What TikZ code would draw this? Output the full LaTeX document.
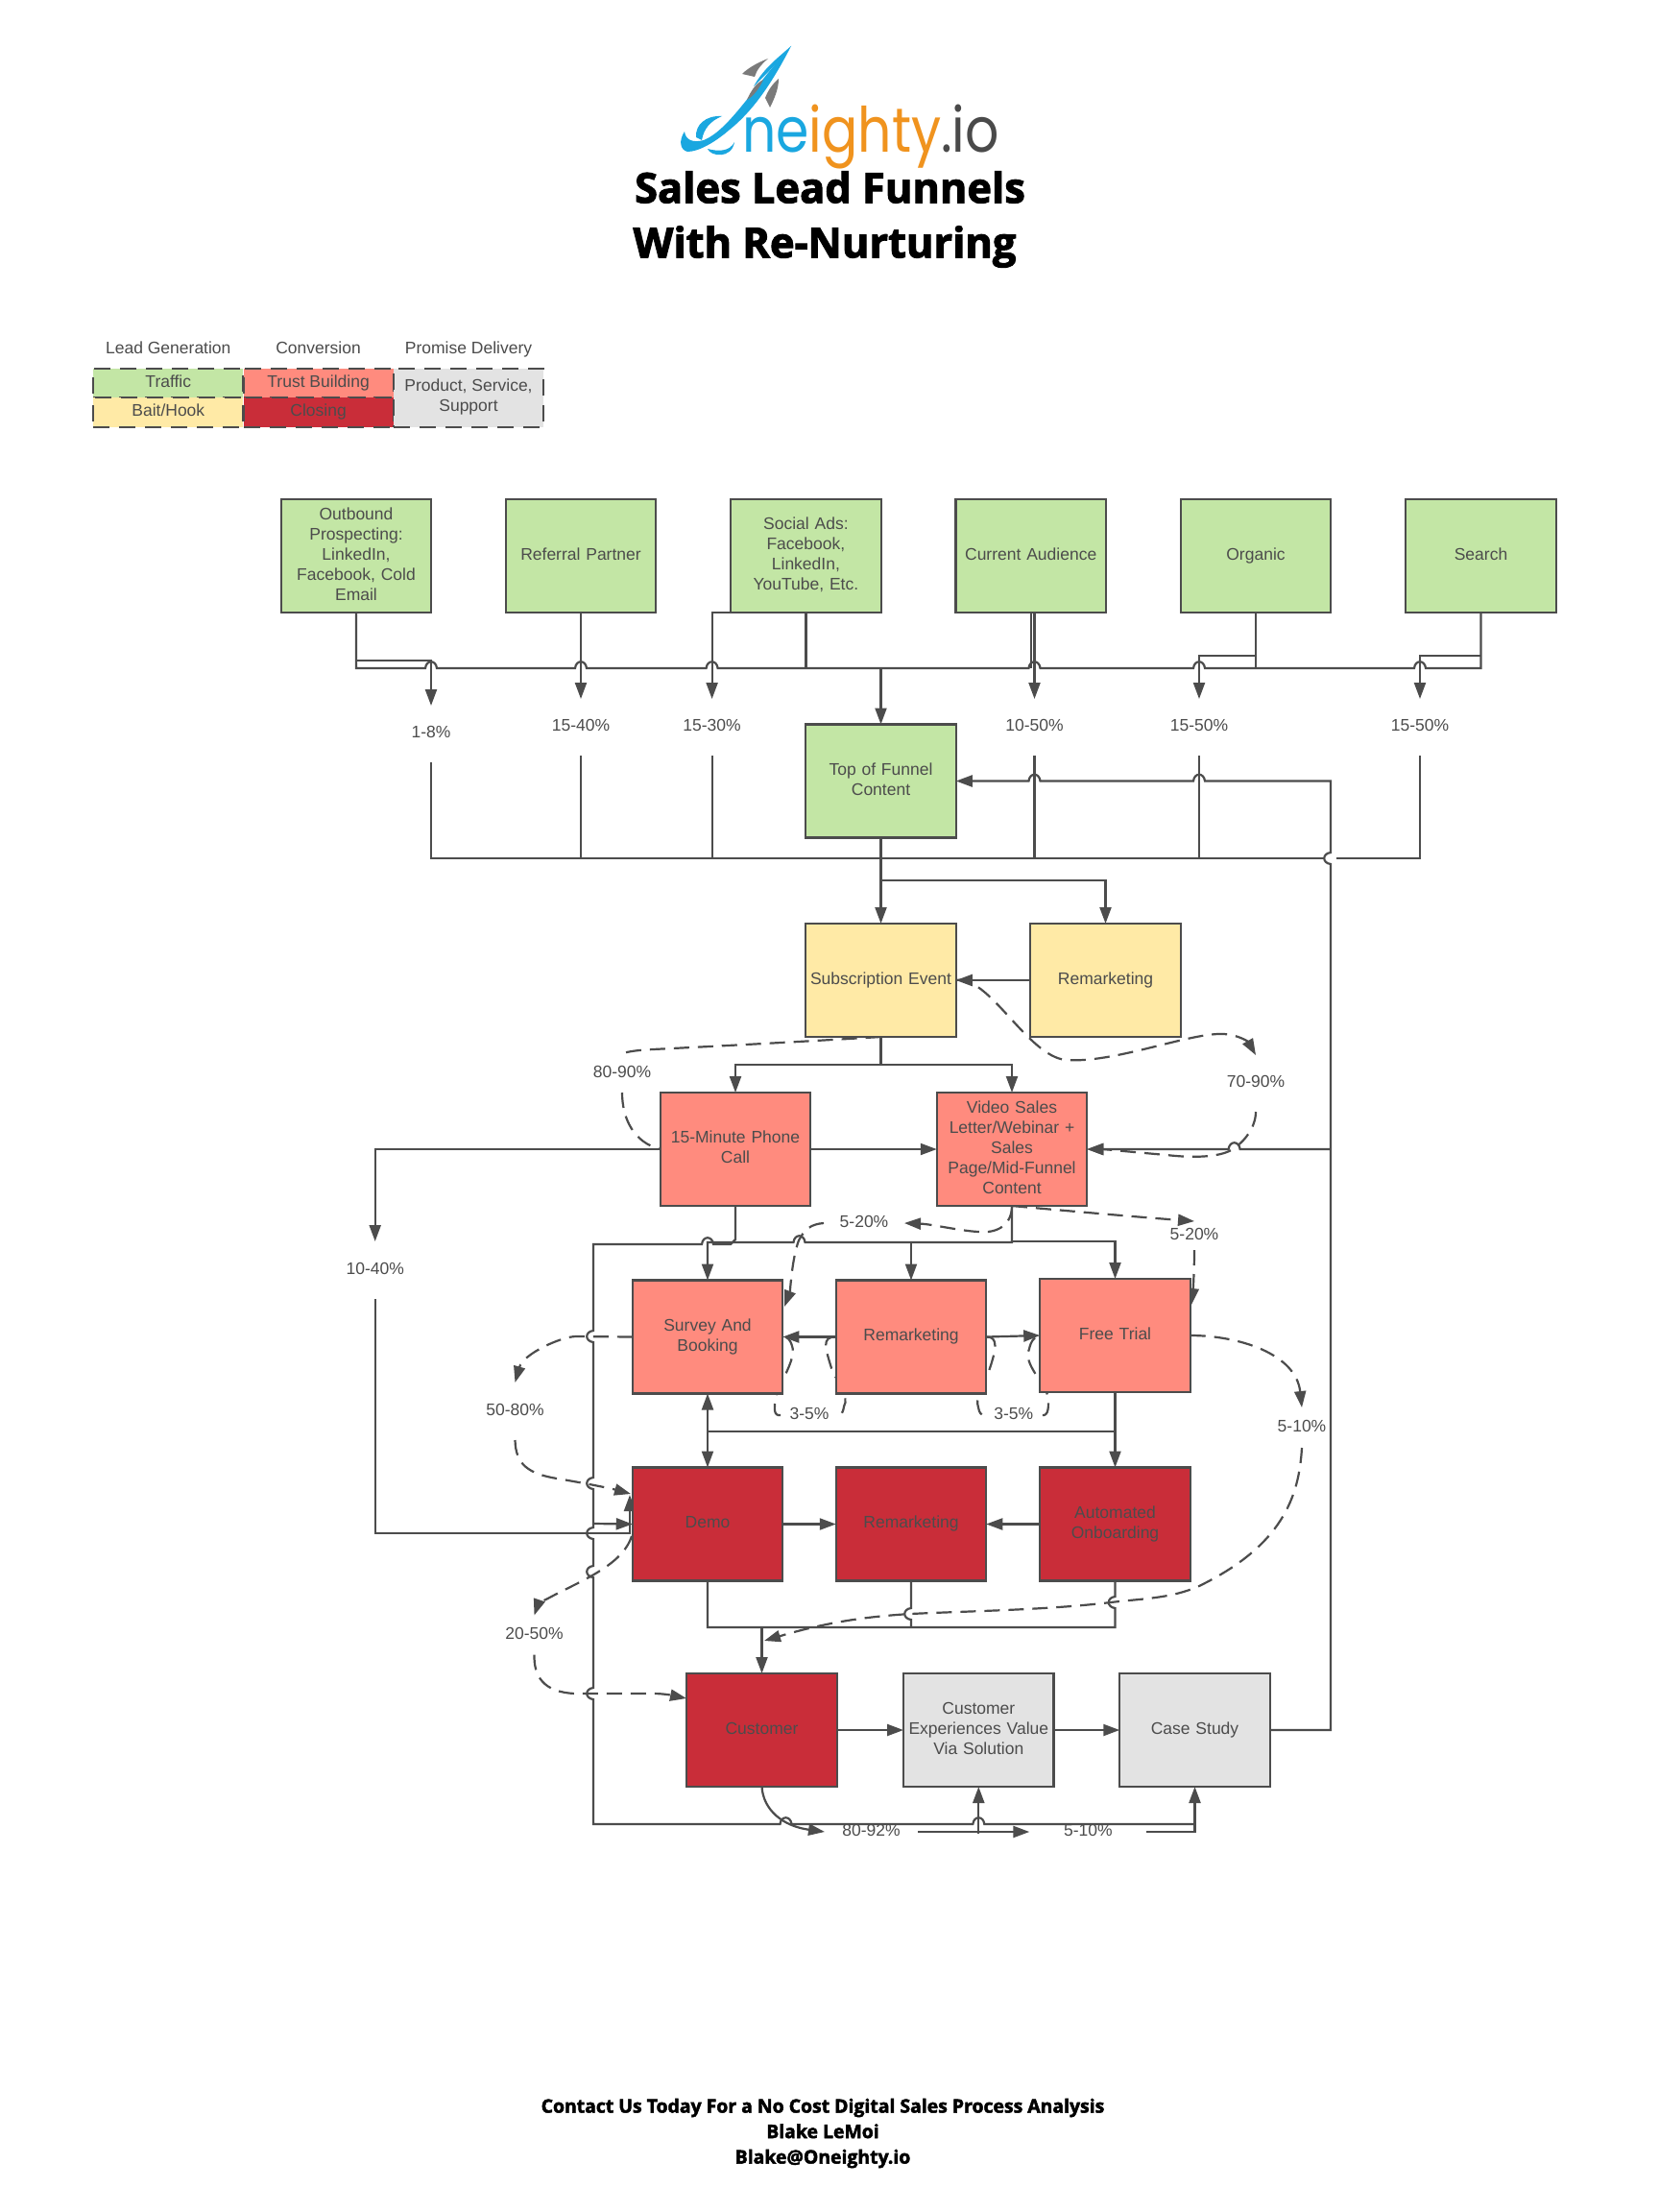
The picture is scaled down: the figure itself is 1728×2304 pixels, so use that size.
\documentclass[tikz,border=0pt]{standalone}
\usepackage{fontspec}
\usepackage{graphicx}
\setmainfont{Liberation Sans}
\newfontfamily\titlefont[BoldFeatures={FakeBold=2.4}]{Open Sans}
\newfontfamily\logofont{Poppins}
\usetikzlibrary{arrows.meta,backgrounds}
\pgfdeclarelayer{connectors}
\pgfsetlayers{connectors,main}
\definecolor{ink}{HTML}{4C4C4C}
\definecolor{cgreen}{HTML}{C3E6A5}
\definecolor{cyellow}{HTML}{FFEAA6}
\definecolor{csalmon}{HTML}{FF8B7E}
\definecolor{cred}{HTML}{C92D39}
\definecolor{cgray}{HTML}{E3E3E3}
\definecolor{lblue}{HTML}{1AA7E0}
\definecolor{lorange}{HTML}{F0931E}
\definecolor{lgray}{HTML}{7A7A7A}
\definecolor{ldark}{HTML}{4A4A4A}
\newcommand{\lf}{\fontsize{17.5}{21}\selectfont}
% line jumps: bump on a line running right, left, or down
\newcommand{\hj}[2]{-- (#1-6,#2) .. controls (#1-5,#2-9) and (#1+5,#2-9) .. (#1+6,#2)}
\newcommand{\hjl}[2]{-- (#1+6,#2) .. controls (#1+5,#2-9) and (#1-5,#2-9) .. (#1-6,#2)}
\newcommand{\vj}[2]{-- (#1,#2-6) .. controls (#1-9,#2-5) and (#1-9,#2+5) .. (#1,#2+6)}
\newcommand{\vju}[2]{-- (#1,#2+6) .. controls (#1-9,#2+5) and (#1-9,#2-5) .. (#1,#2-6)}
\tikzset{
  struts/.style={execute at begin node=\strut,execute at end node=\strut},
  flowbox/.style={draw=ink,line width=2.2pt,text=ink,minimum width=156.5pt,minimum height=118pt,
    text width=150pt,inner sep=0pt,outer sep=0pt,align=center,font=\lf,struts},
  traffic/.style={flowbox,fill=cgreen},
  bait/.style={flowbox,fill=cyellow},
  trust/.style={flowbox,fill=csalmon},
  closing/.style={flowbox,fill=cred},
  deliver/.style={flowbox,fill=cgray},
  pct/.style={text=ink,font=\lf,inner sep=0pt,outer sep=0pt,align=center,struts},
  legbox/.style={draw=ink,line width=2.2pt,dash pattern=on 17pt off 10pt,text=ink,inner sep=0pt,outer sep=0pt,
    minimum width=156pt,align=center,font=\lf,struts},
  leghead/.style={text=ink,font=\lf,inner sep=0pt,anchor=base},
  link/.style={draw=ink,line width=2.2pt},
  arrowlink/.style={link,-{Triangle[length=17pt,width=12pt]}},
  dashlink/.style={link,dash pattern=on 16pt off 9pt},
  dasharrow/.style={dashlink,-{Triangle[length=17pt,width=12pt]}},
}
\begin{document}
\begin{tikzpicture}[x=1pt,y=-1pt]
\useasboundingbox (0,0) rectangle (1728,2304);
\begin{pgfonlayer}{connectors}
\fill[white] (0,0) rectangle (1728,2304);
\end{pgfonlayer}

% ---- logo ----
\fill[lblue] (824,48) .. controls (805,85) and (785,115) .. (760,135) .. controls (745,148) and (728,158) .. (716,158)
  .. controls (708,156) and (707,146) .. (713,137) .. controls (714,146) and (722,149) .. (733,146)
  .. controls (760,135) and (785,90) .. (824,48) -- cycle;
\fill[lblue] (824,48) .. controls (808,68) and (795,80) .. (785,90) .. controls (795,72) and (808,62) .. (824,48) -- cycle;
\fill[lblue] (752,121) .. controls (735,120) and (724,130) .. (725,143) -- (731,146) .. controls (733,134) and (740,126) .. (752,121) -- cycle;
\fill[lblue] (765,148) .. controls (760,158) and (748,158) .. (737,155) .. controls (740,163) and (762,166) .. (765,148) -- cycle;
\fill[lgray] (800,61) .. controls (790,65) and (780,70) .. (773,77) -- (786,80) .. controls (788,73) and (793,67) .. (800,61) -- cycle;
\fill[lgray] (795,83) .. controls (787,87) and (782,95) .. (778,104) .. controls (785,100) and (791,92) .. (795,83) -- cycle;
\fill[lgray] (811,82) .. controls (805,87) and (800,94) .. (797,102) -- (802,112) .. controls (807,102) and (811,92) .. (811,82) -- cycle;
\node[inner sep=0pt,anchor=base west] (logotext) at (773,158)
  {\scalebox{0.85}[1]{\logofont\fontsize{65}{70}\selectfont\textcolor{lblue}{ne}\textcolor{lorange}{ighty}\textcolor{ldark}{.io}}};

% ---- titles ----
\node[inner sep=0pt,font=\titlefont\bfseries\fontsize{43.4}{48}\selectfont,text=black] (title1) at (864.5,195) {Sales Lead Funnels};
\node[inner sep=0pt,font=\titlefont\bfseries\fontsize{43.4}{48}\selectfont,text=black] (title2) at (859,257) {With Re-Nurturing};
\node[inner sep=0pt,font=\titlefont\bfseries\fontsize{19.4}{26}\selectfont,text=black,align=center] (footer) at (857,2222)
  {Contact Us Today For a No Cost Digital Sales Process Analysis\\[0.5pt]Blake LeMoi\\[0.5pt]Blake@Oneighty.io};

% ---- legend ----
\node[leghead] (h1) at (175.3,368) {Lead Generation};
\node[leghead] (h2) at (331.6,368) {Conversion};
\node[leghead] (h3) at (488,368) {Promise Delivery};
\node[legbox,fill=cgreen,minimum height=30pt] (lg1) at (175.3,399) {Traffic};
\node[legbox,fill=cyellow,minimum height=31pt] (lg2) at (175.3,429.5) {Bait/Hook};
\node[legbox,fill=csalmon,minimum height=30pt] (lg3) at (331.6,399) {Trust Building};
\node[legbox,fill=cred,minimum height=31pt] (lg4) at (331.6,429.5) {Closing};
\node[legbox,fill=cgray,minimum height=61pt] (lg5) at (488,414.5) {Product, Service,\\Support};

% ---- boxes ----
\node[traffic] (out) at (371,579) {Outbound\\Prospecting:\\LinkedIn,\\Facebook, Cold\\Email};
\node[traffic] (ref) at (605,579) {Referral Partner};
\node[traffic] (soc) at (839.4,579) {Social Ads:\\Facebook,\\LinkedIn,\\YouTube, Etc.};
\node[traffic] (cur) at (1073.7,579) {Current Audience};
\node[traffic] (org) at (1308,579) {Organic};
\node[traffic] (sea) at (1542.5,579) {Search};
\node[traffic] (tofu) at (917.5,813.5) {Top of Funnel\\Content};
\node[bait] (sub) at (917.5,1021) {Subscription Event};
\node[bait] (rem1) at (1151.5,1021) {Remarketing};
\node[trust] (call) at (766,1197) {15-Minute Phone\\Call};
\node[trust] (vsl) at (1054,1197) {Video Sales\\Letter/Webinar +\\Sales\\Page/Mid-Funnel\\Content};
\node[trust] (survey) at (737,1392.5) {Survey And\\Booking};
\node[trust] (rem2) at (949,1392.5) {Remarketing};
\node[trust] (free) at (1161.5,1391) {Free Trial};
\node[closing] (demo) at (737,1587.5) {Demo};
\node[closing] (rem3) at (949,1587.5) {Remarketing};
\node[closing] (auto) at (1161.5,1587.5) {Automated\\Onboarding};
\node[closing] (cust) at (793.5,1802) {Customer};
\node[deliver] (exp) at (1019.3,1802) {Customer\\Experiences Value\\Via Solution};
\node[deliver] (casestudy) at (1244.5,1802) {Case Study};

% ---- percentages: each node spans the gap its connector leaves ----
\node[pct,minimum height=59pt] (l1) at (449,764.5) {1-8\%};
\node[pct,minimum height=59pt] (l2) at (605,757.5) {15-40\%};
\node[pct,minimum height=59pt] (l3) at (741.6,757.5) {15-30\%};
\node[pct,minimum height=59pt] (l4) at (1077.5,757.5) {10-50\%};
\node[pct,minimum height=59pt] (l5) at (1249,757.5) {15-50\%};
\node[pct,minimum height=59pt] (l6) at (1479,757.5) {15-50\%};
\node[pct,minimum height=59pt] (l70) at (1308,1128.5) {70-90\%};
\node[pct,minimum height=40pt] (l80) at (648,1118) {80-90\%};
\node[pct,minimum height=60pt] (l10) at (390.7,1323) {10-40\%};
\node[pct,minimum width=84pt] (l5a) at (900,1274) {5-20\%};
\node[pct,minimum height=30pt] (l5c) at (1244,1287) {5-20\%};
\node[pct,minimum height=60pt] (l50) at (536.5,1470) {50-80\%};
\node[pct,minimum height=42pt] (l510) at (1356,1487) {5-10\%};
\node[pct,minimum height=41pt] (l20) at (556.5,1703) {20-50\%};
\node[pct,minimum width=60pt] (l35a) at (843,1474) {3-5\%};
\node[pct,minimum width=60pt] (l35b) at (1055.8,1474) {3-5\%};
\node[pct,minimum width=97pt] (l92) at (907.5,1908) {80-92\%};
\node[pct,minimum width=122pt] (l510b) at (1133.3,1908) {5-10\%};

% ---- free ends ----
\coordinate (demoEdge) at (656,1557);
\coordinate (demoOut) at (658,1600);
\coordinate (demoIn) at (657,1556);
\coordinate (surveyIn) at (817,1361);
\coordinate (freeIn) at (1241,1359);
\coordinate (custIn) at (715,1769);
\coordinate (custDrop) at (796,1709);

\begin{pgfonlayer}{connectors}
% upper bus
\draw[link] (out.south) -- (371,696) \hj{449}{696} \hj{605}{696} \hj{741.6}{696} \hj{1077.5}{696} \hj{1249}{696} \hj{1479}{696} -- (1542.5,696) -- (sea.south);
\draw[arrowlink] (371,688) -- (449,688) -- (l1.north);
\draw[arrowlink] (ref.south) -- (l2.north);
\draw[link] (soc.south) -- (839.4,696);
\draw[arrowlink] (soc.south) -- (741.6,638) -- (l3.north);
\draw[link] (cur.south) -- (1073.7,696);
\draw[arrowlink] (1077.5,638) -- (l4.north);
\draw[link] (org.south) -- (1308,696);
\draw[arrowlink] (1308,683) -- (1249,683) -- (l5.north);
\draw[arrowlink] (1542.5,683) -- (1479,683) -- (l6.north);
\draw[arrowlink] (917.5,696) -- (tofu.north);
% lower bus
\draw[link] (l1.south) -- (449,894) -- (1380,894);
\draw[link] (1392,894) -- (1479,894) -- (l6.south);
\draw[link] (l2.south) -- (605,894);
\draw[link] (l3.south) -- (741.6,894);
\draw[link] (l4.south) -- (1077.5,894);
\draw[link] (l5.south) -- (1249,894);
\draw[arrowlink] (casestudy.east) -- (1386,1802) \vju{1386}{894} -- (1386,813.5) \hjl{1249}{813.5} \hjl{1077.5}{813.5} -- (tofu.east);
\draw[arrowlink] (1386,1197) \hjl{1285.6}{1197} -- (vsl.east);
% funnel
\draw[arrowlink] (tofu.south) -- (sub.north);
\draw[arrowlink] (917.5,917) -- (1151.5,917) -- (rem1.north);
\draw[arrowlink] (rem1.west) -- (sub.east);
\draw[arrowlink] (sub.south) -- (917.5,1109) -- (766,1109) -- (call.north);
\draw[arrowlink] (917.5,1109) -- (1054,1109) -- (vsl.north);
\draw[arrowlink] (call.east) -- (vsl.west);
\draw[arrowlink] (call.west) -- (390.7,1197) -- (l10.north);
\draw[arrowlink] (l10.south) -- (390.7,1597) -- (656,1597) -- (demoEdge);
% 15-minute call and long return line
\draw[link] (call.south) -- (766,1291) -- (761,1296) \hjl{737}{1296} -- (618,1296) \vj{618}{1392} \vj{618}{1545} \vj{618}{1597} \vj{618}{1637} \vj{618}{1764} -- (618,1900) \hj{818.5}{1900} \hj{1019.3}{1900} -- (1244.5,1900);
\draw[arrowlink] (618,1587) -- (demo.west);
\draw[arrowlink] (vsl.south) -- (1054,1294) \hjl{832.5}{1294} -- (737,1294) -- (survey.north);
\draw[arrowlink] (949,1294) -- (rem2.north);
\draw[arrowlink] (1054,1293) -- (1161.5,1293) -- (free.north);
\draw[arrowlink] (rem2.west) -- (survey.east);
\draw[arrowlink] (rem2.east) -- (free.west);
\draw[arrowlink] (free.south) -- (auto.north);
\draw[arrowlink] (1161.5,1490.7) -- (737,1490.7) -- (survey.south);
\draw[arrowlink] (737,1490.7) -- (demo.north);
\draw[arrowlink] (demo.east) -- (rem3.west);
\draw[arrowlink] (auto.west) -- (rem3.east);
\draw[link] (demo.south) -- (737,1695) -- (1161.5,1695) \vju{1161.5}{1669} -- (auto.south);
\draw[link] (rem3.south) \vj{949}{1681} -- (949,1695);
\draw[arrowlink] (793.5,1695) -- (cust.north);
\draw[arrowlink] (cust.east) -- (exp.west);
\draw[arrowlink] (exp.east) -- (casestudy.west);
\draw[arrowlink] (cust.south) .. controls (795,1885) and (815,1902) .. (l92.west);
\draw[link] (l92.east) -- (1019.3,1908);
\draw[arrowlink] (1019.3,1908) -- (l510b.west);
\draw[arrowlink] (1019.3,1910) -- (exp.south);
\draw[arrowlink] (l510b.east) -- (1244.5,1908) -- (casestudy.south);
% dashed conversion paths
\draw[dasharrow] (sub.east) .. controls (1030,1015) and (1070,1100) .. (1110,1104) .. controls (1160,1108) and (1240,1075) .. (1275,1077) .. controls (1290,1078) and (1300,1085) .. (l70.north);
\draw[dasharrow] (l70.south) .. controls (1308,1175) and (1295,1190) .. (1284,1197) .. controls (1270,1206) and (1240,1206) .. (1215,1203) .. controls (1180,1200) and (1150,1197) .. (vsl.east);
\draw[dashlink] (sub.south) .. controls (800,1087) and (720,1091) .. (680,1093) .. controls (660,1094) and (650,1096) .. (l80.north);
\draw[dashlink] (l80.south) .. controls (648,1165) and (660,1190) .. (call.west);
\draw[dasharrow] (vsl.south) .. controls (1054,1275) and (1040,1285) .. (1019,1283) .. controls (1000,1282) and (970,1275) .. (l5a.east);
\draw[dasharrow] (l5a.west) .. controls (845,1275) and (838,1280) .. (832,1292) .. controls (825,1310) and (823,1345) .. (surveyIn);
\draw[dasharrow] (vsl.south) .. controls (1120,1262) and (1190,1268) .. (l5c.north);
\draw[dasharrow] (l5c.south) .. controls (1244,1320) and (1243,1340) .. (freeIn);
\draw[dasharrow] (survey.west) -- (600,1392) .. controls (585,1392) and (545,1410) .. (l50.north);
\draw[dasharrow] (l50.south) .. controls (537,1525) and (550,1535) .. (580,1540) .. controls (610,1545) and (635,1550) .. (demoIn);
\draw[dasharrow] (demoOut) .. controls (650,1625) and (620,1640) .. (590,1655) .. controls (575,1662) and (560,1672) .. (l20.north);
\draw[dasharrow] (l20.south) .. controls (556,1745) and (565,1763) .. (600,1764) -- (680,1764) .. controls (695,1764) and (705,1767) .. (custIn);
\draw[dasharrow] (free.east) .. controls (1290,1391) and (1350,1410) .. (l510.north);
\draw[dasharrow] (l510.south) .. controls (1353,1560) and (1335,1610) .. (1249,1652) .. controls (1220,1665) and (1190,1665) .. (1157,1669) .. controls (1090,1677) and (1010,1678) .. (948,1681) .. controls (900,1684) and (860,1690) .. (custDrop);
% 3-5% loops
\draw[dashlink] (rem2.west) .. controls (855,1392) and (860,1405) .. (866,1425) .. controls (872,1440) and (885,1455) .. (879,1465) .. controls (878,1472) and (876,1474) .. (l35a.east);
\draw[dashlink] (l35a.west) .. controls (806,1475) and (806,1468) .. (808,1455) .. controls (812,1440) and (830,1415) .. (825,1402) .. controls (823,1395) and (820,1392) .. (survey.east);
\draw[dashlink] (rem2.east) .. controls (1040,1392) and (1038,1405) .. (1030,1428) .. controls (1025,1440) and (1015,1455) .. (1019,1466) .. controls (1020,1472) and (1022,1474) .. (l35b.west);
\draw[dashlink] (l35b.east) .. controls (1092,1475) and (1093,1465) .. (1091,1453) .. controls (1088,1440) and (1065,1420) .. (1072,1405) .. controls (1074,1396) and (1078,1392) .. (free.west);
\end{pgfonlayer}
\end{tikzpicture}
\end{document}
